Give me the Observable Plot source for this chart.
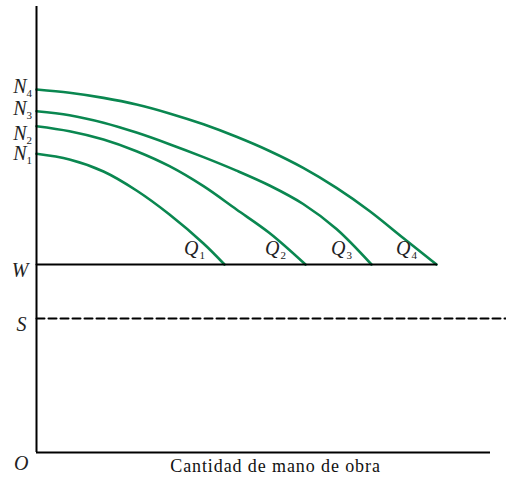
<!DOCTYPE html>
<html><head><meta charset="utf-8">
<script src="https://cdn.jsdelivr.net/npm/d3@7"></script>
<script src="https://cdn.jsdelivr.net/npm/@observablehq/plot@0.6"></script>
<style>body{margin:0;background:#fff;} svg{display:block;}</style>
</head><body><div id="chart"></div>
<script>
// Curves (quantity of labour vs wage)
const n1X = [0, 33, 67, 100, 133, 167, 188];
const n1Y = [298.7, 293, 281, 262, 238, 209, 188];
const n2X = [0, 33, 67, 100, 133, 167, 200, 233, 269];
const n2Y = [326.3, 321.3, 313, 301.3, 286.3, 266.3, 243, 219.5, 188];
const n3X = [0, 33, 67, 100, 133, 167, 200, 233, 266.7, 300, 335];
const n3Y = [341.3, 337.3, 329.8, 319.9, 308.3, 295.4, 281.9, 267, 248.5, 223.5, 188];
const n4X = [0, 33, 67, 100, 133, 167, 200, 233, 266.7, 300, 333, 366.7, 400];
const n4Y = [363, 359.7, 354.6, 348, 339.1, 328.2, 315.7, 301.5, 284.6, 264.6, 241.5, 214.5, 188];

const curveSubs = ["1", "2", "3", "4"];
const nLabelY = [299, 319, 344, 366];
const qEndX = [188, 269, 335, 400];

const wLevel = 188;
const sLevel = 134;
const wEndX = 400;
const sEndX = 470;
const xMax = 454;
const yMax = 446;
const xTitle = "Cantidad de mano de obra";
const xTitleX = 239;

const curves = [[n1X, n1Y], [n2X, n2Y], [n3X, n3Y], [n4X, n4Y]];
const rows = curves.flatMap(([xs, ys], i) => xs.map((x, j) => ({curve: "N" + curveSubs[i], x, y: ys[j]})));
const nLabels = curveSubs.map((s, i) => ({s, y: nLabelY[i]}));
const qLabels = curveSubs.map((s, i) => ({s, x: qEndX[i]}));

const green = "#0a8750";
const serif = "Liberation Serif, Times New Roman, serif";

const chart = Plot.plot({
  width: 506,
  height: 480,
  marginLeft: 36,
  marginRight: 16,
  marginTop: 6,
  marginBottom: 28,
  x: {domain: [0, xMax], axis: null},
  y: {domain: [0, yMax], axis: null},
  style: {fontFamily: serif, background: "#fff"},
  marks: [
    Plot.line(rows, {x: "x", y: "y", z: "curve", stroke: green, strokeWidth: 2.6, curve: "catmull-rom"}),
    Plot.line([{x: 0, y: wLevel}, {x: wEndX, y: wLevel}], {x: "x", y: "y", stroke: "#000", strokeWidth: 2}),
    Plot.line([{x: 0, y: sLevel}, {x: sEndX, y: sLevel}], {x: "x", y: "y", stroke: "#000", strokeWidth: 2, strokeDasharray: "8,4"}),
    Plot.ruleX([0], {stroke: "#000", strokeWidth: 2}),
    Plot.ruleY([0], {stroke: "#000", strokeWidth: 2}),
    // N labels
    Plot.text(nLabels, {x: () => 0, y: "y", text: () => "N", textAnchor: "end", dx: -10, fontSize: 20, fontStyle: "italic", fill: "#222"}),
    Plot.text(nLabels, {x: () => 0, y: "y", text: "s", textAnchor: "start", dx: -10, dy: 7, fontSize: 11, fill: "#222"}),
    // Q labels
    Plot.text(qLabels, {x: "x", y: () => wLevel, text: () => "Q", textAnchor: "end", dx: -26, dy: -16, fontSize: 20, fontStyle: "italic", fill: "#222"}),
    Plot.text(qLabels, {x: "x", y: () => wLevel, text: "s", textAnchor: "start", dx: -25, dy: -9, fontSize: 11, fill: "#222"}),
    // W, S, O
    Plot.text(["W"], {x: () => 0, y: () => wLevel, text: d => d, textAnchor: "end", dx: -8, dy: 6, fontSize: 20, fontStyle: "italic", fill: "#222"}),
    Plot.text(["S"], {x: () => 0, y: () => sLevel, text: d => d, textAnchor: "end", dx: -10, dy: 6, fontSize: 20, fontStyle: "italic", fill: "#222"}),
    Plot.text(["O"], {x: () => 0, y: () => 0, text: d => d, textAnchor: "end", dx: -8, dy: 11, fontSize: 20, fontStyle: "italic", fill: "#222"}),
    Plot.text([xTitle], {x: () => xTitleX, y: () => 0, text: d => d, dy: 14, fontSize: 18, fill: "#111"})
  ]
});
d3.select(chart).selectAll("text").filter(function() { return this.textContent === xTitle; })
  .attr("letter-spacing", "0.9px");
document.getElementById("chart").append(chart);
</script>
</body></html>
